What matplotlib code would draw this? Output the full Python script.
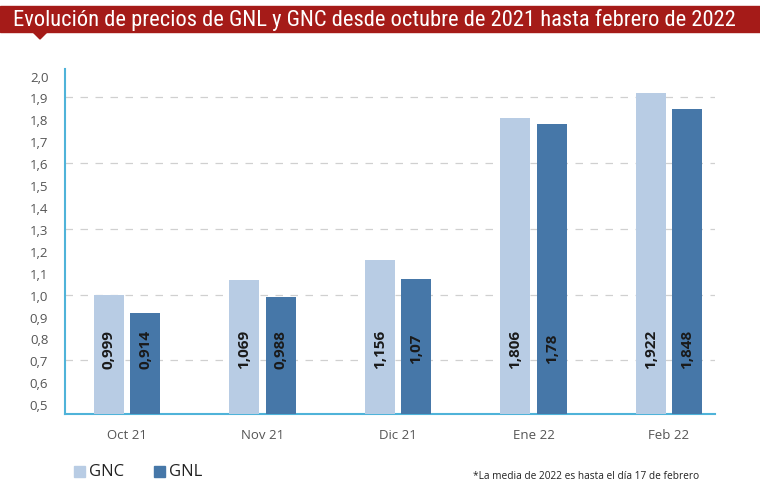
import matplotlib
matplotlib.use("Agg")
import matplotlib.pyplot as plt
import numpy as np
from matplotlib.patches import Rectangle, Polygon

months = ["Oct 21", "Nov 21", "Dic 21", "Ene 22", "Feb 22"]
gnc = [0.999, 1.069, 1.156, 1.806, 1.922]
gnl = [0.914, 0.988, 1.07, 1.78, 1.848]
gnc_labels = ["0,999", "1,069", "1,156", "1,806", "1,922"]
gnl_labels = ["0,914", "0,988", "1,07", "1,78", "1,848"]
yticks = [0.5, 0.6, 0.7, 0.8, 0.9, 1.0, 1.1, 1.2, 1.3, 1.4, 1.5, 1.6, 1.7, 1.8, 1.9, 2.0]
gridlines = [0.7, 1.0, 1.3, 1.6, 1.9]

title = "Evolución de precios de GNL y GNC desde octubre de 2021 hasta febrero de 2022"
note = "*La media de 2022 es hasta el día 17 de febrero"

c_gnc = "#b8cce4"
c_gnl = "#4677a8"
c_axis = "#4fb3d9"
c_red = "#a51b18"

plt.rcParams["font.family"] = ["Open Sans", "DejaVu Sans"]

fig = plt.figure(figsize=(7.6, 5.02), dpi=100)
ax = fig.add_axes([65 / 760, 87 / 502, 650 / 760, 345 / 502])

x = np.arange(len(months))
w = 0.22
off = 0.135
base = 0.455
ax.bar(x - off, np.array(gnc) - base, w, bottom=base, color=c_gnc, zorder=3)
ax.bar(x + off, np.array(gnl) - base, w, bottom=base, color=c_gnl, zorder=3)
for i in range(len(months)):
    ax.text(x[i] - off, 0.755, gnc_labels[i], rotation=90, ha="center", va="center",
            fontsize=11, fontweight="bold", color="#1a1a1a", zorder=4)
    ax.text(x[i] + off, 0.755, gnl_labels[i], rotation=90, ha="center", va="center",
            fontsize=11, fontweight="bold", color="#1a1a1a", zorder=4)

for g in gridlines:
    ax.axhline(g, color="#d0d0d0", lw=0.9, ls=(0, (6, 6)), zorder=1)

ax.set_ylim(base, 2.03)
ax.set_xlim(-0.458, 4.34)
ax.set_yticks(yticks)
ax.set_yticklabels([f"{v:.1f}".replace(".", ",") for v in yticks])
ax.set_xticks(x)
ax.set_xticklabels(months)
ax.tick_params(axis="both", length=0, colors="#555555", labelsize=9.5)
ax.tick_params(axis="x", pad=10)
ax.tick_params(axis="y", pad=12)
for s in ["top", "right"]:
    ax.spines[s].set_visible(False)
for s in ["left", "bottom"]:
    ax.spines[s].set_color(c_axis)
    ax.spines[s].set_linewidth(1.5)

# title band
fig.patches.append(Rectangle((0, 1 - 33 / 502), 1, 26 / 502, transform=fig.transFigure,
                             color=c_red, zorder=0))
fig.patches.append(Polygon([(33 / 760, 1 - 33 / 502), (47 / 760, 1 - 33 / 502),
                            (40 / 760, 1 - 40 / 502)], closed=True,
                           transform=fig.transFigure, color=c_red, zorder=0))
fig.text(374 / 760, 1 - 20 / 502, title, ha="center", va="center", color="white",
         fontsize=16.2, fontweight="normal", family=["Roboto Condensed", "Roboto", "DejaVu Sans"])

# legend
fig.patches.append(Rectangle((74 / 760, 1 - 478 / 502), 11 / 760, 11 / 502,
                             transform=fig.transFigure, color=c_gnc))
fig.text(89 / 760, 1 - 472 / 502, "GNC", ha="left", va="center", fontsize=12, color="#222222")
fig.patches.append(Rectangle((154 / 760, 1 - 478 / 502), 11 / 760, 11 / 502,
                             transform=fig.transFigure, color=c_gnl))
fig.text(169 / 760, 1 - 472 / 502, "GNL", ha="left", va="center", fontsize=12, color="#222222")

fig.text(473 / 760, 1 - 477 / 502, note, ha="left", va="center", fontsize=7.3, color="#222222")

fig.savefig("out.png", dpi=100)
